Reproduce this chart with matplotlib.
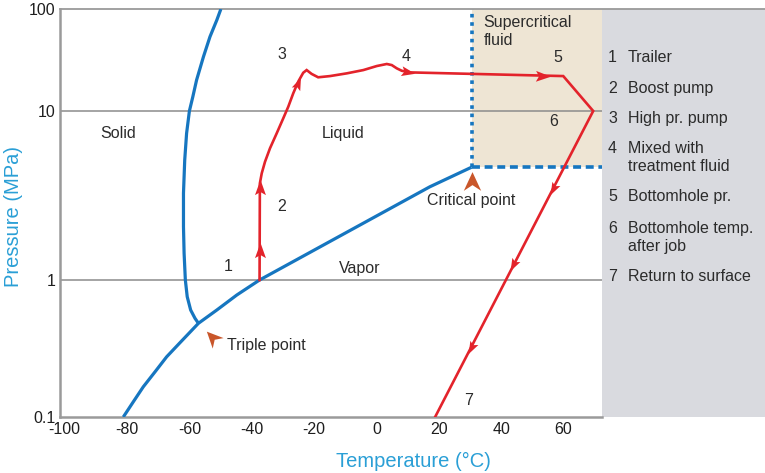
import numpy as np
import matplotlib
matplotlib.use("Agg")
import matplotlib.pyplot as plt

plt.rcParams['font.family'] = ['Liberation Sans', 'DejaVu Sans']

# ---------------- data ----------------
melt_T = [-49.9, -51.2, -53.4, -55.5, -57.7, -58.9, -60.0, -60.9, -61.5, -61.9,
          -61.9, -61.7, -61.3, -60.7, -59.6, -58.2, -57.1]
melt_P = [100, 78.0, 53.5, 34.0, 20.1, 13.8, 10.0, 7.38, 5.13, 3.26,
          2.07, 1.44, 1.0, 0.755, 0.604, 0.525, 0.483]

vap_T = [-81.2, -78.0, -74.8, -71.0, -67.3, -63.0, -57.1, -51.2, -44.8, -37.5, 17.1, 30.5]
vap_P = [0.1, 0.129, 0.166, 0.214, 0.275, 0.349, 0.483, 0.604, 0.777, 1.0, 3.56, 4.65]

crit_T, crit_P = 30.5, 4.65
panel_T = 72.4

path_T = [-37.5, -37.4, -36.8, -35.75, -34.15, -32.0, -29.9, -28.3, -26.7, -25.1,
          -23.5, -22.4, -20.8, -18.7, -14.9, -9.5, -4.2, 0.1, 3.3, 4.9,
          6.5, 8.1, 10.8, 59.9, 69.5, 18.8]
path_P = [1.0, 3.73, 4.28, 5.01, 6.02, 7.38, 9.05, 11.0, 14.9, 19.4,
          23.7, 25.2, 23.1, 21.4, 22.0, 23.4, 25.2, 27.6, 28.9, 28.2,
          26.2, 24.8, 23.9, 22.0, 10.0, 0.1]

arrow_T = [-37.5, -37.5, -24.8, 10.0, 53.5, 56.7, 44.4, 30.5]
arrow_P = [1.50, 3.56, 18.7, 23.7, 22.3, 3.44, 1.21, 0.317]

x_ticks = [-100, -80, -60, -40, -20, 0, 20, 40, 60]
y_ticks = [0.1, 1, 10, 100]
y_ticklabels = ["0.1", "1", "10", "100"]

step_labels = ["1", "2", "3", "4", "5", "6", "7"]
step_T = [-47.5, -30.4, -30.3, 9.5, 58.3, 56.9, 29.5]
step_P = [1.21, 2.72, 36.2, 34.6, 33.6, 8.69, 0.133]

legend_nums = ["1", "2", "3", "4", "5", "6", "7"]
legend_texts = ["Trailer", "Boost pump", "High pr. pump", "Mixed with\ntreatment fluid",
                "Bottomhole pr.", "Bottomhole temp.\nafter job", "Return to surface"]

# ---------------- styles ----------------
BLUE = '#1676c0'
RED = '#e3232b'
LBLUE = '#2a9fd6'
ORANGE = '#c9562a'
TXT = '#2b2b2b'
GRAYLINE = '#9a9a9a'

W, H = 765, 473

# piecewise log scale (decade heights as in the original figure)
LOGS = [-1.0, 0.0, 1.0, 2.0]
FRAC = [0.0, 137/408, 306/408, 1.0]


def _pw(x, xp, fp):
    x = np.asarray(x, dtype=float)
    y = np.interp(x, xp, fp)
    lo_s = (fp[1] - fp[0]) / (xp[1] - xp[0])
    hi_s = (fp[-1] - fp[-2]) / (xp[-1] - xp[-2])
    y = np.where(x < xp[0], fp[0] + (x - xp[0]) * lo_s, y)
    y = np.where(x > xp[-1], fp[-1] + (x - xp[-1]) * hi_s, y)
    return y


def fwd(v):
    with np.errstate(divide='ignore', invalid='ignore'):
        lv = np.log10(np.maximum(np.asarray(v, dtype=float), 1e-300))
    return _pw(lv, LOGS, FRAC)


def inv(v):
    return 10 ** _pw(v, FRAC, LOGS)


fig = plt.figure(figsize=(W / 100, H / 100), dpi=100)
ax = fig.add_axes([60 / W, 1 - 417 / H, 1 - 60 / W, (417 - 9) / H])
ax.set_yscale('function', functions=(fwd, inv))
x_left, x_right = -101.5, 124.6
ax.set_xlim(x_left, x_right)
ax.set_ylim(0.1, 100)

# backgrounds
ax.axvspan(panel_T, x_right, color='#d9dadf', lw=0, zorder=0)
ax.fill_between([crit_T, panel_T], crit_P, 100, color='#eee5d4', lw=0, zorder=0)

# grid lines
ax.hlines([1, 10], x_left, panel_T, colors='#8c8c8c', lw=1.1, zorder=1)

# dashed supercritical boundary
ax.plot([crit_T, crit_T], [crit_P, 100], color=BLUE, lw=2.6, ls=(0, (1.0, 1.3)), zorder=2)
ax.plot([crit_T, panel_T], [crit_P, crit_P], color=BLUE, lw=2.6, ls=(0, (2.2, 1.3)), zorder=2)

# phase boundaries
ax.plot(melt_T, melt_P, color=BLUE, lw=2.3, zorder=3, solid_capstyle='butt', solid_joinstyle='round')
ax.plot(vap_T, vap_P, color=BLUE, lw=2.3, zorder=3, solid_capstyle='butt', solid_joinstyle='round')

# red process path
ax.plot(path_T, path_P, color=RED, lw=1.9, zorder=4, solid_joinstyle='miter')

ARROW_VERTS = np.array([[0, 0.5], [-0.36, -0.5], [0, -0.3], [0.36, -0.5], [0, 0.5]])
CHEV_VERTS = np.array([[0, 0.775], [-0.72, -0.775], [0, -0.3], [0.72, -0.775], [0, 0.775]])


def rot(verts, deg):
    a = np.radians(deg)
    R = np.array([[np.cos(a), -np.sin(a)], [np.sin(a), np.cos(a)]])
    return verts @ R.T


disp = ax.transData.transform(np.column_stack([path_T, path_P]))
for t, p in zip(arrow_T, arrow_P):
    q = ax.transData.transform((t, p))
    best = None
    for i in range(len(disp) - 1):
        a, b = disp[i], disp[i + 1]
        ab = b - a
        L2 = ab @ ab
        if L2 == 0:
            continue
        s = np.clip((q - a) @ ab / L2, 0, 1)
        pr = a + s * ab
        d = np.hypot(*(q - pr))
        if best is None or d < best[0]:
            best = (d, pr, ab)
    _, pr, ab = best
    ang = np.degrees(np.arctan2(ab[1], ab[0]))
    tp = ax.transData.inverted().transform(pr)
    ax.plot(tp[0], tp[1], marker=rot(ARROW_VERTS, ang - 90), ms=11, color=RED,
            mec='none', zorder=5, ls='none')

# chevrons
ax.plot(crit_T, 3.84, marker=CHEV_VERTS, ms=13.5, color=ORANGE, mec='none', zorder=5, ls='none')
ax.plot(-52.7, 0.384, marker=rot(CHEV_VERTS, 44), ms=16, color=ORANGE, mec='none', zorder=5, ls='none')

# region labels
FS = 11.5
ax.text(-82.9, 7.31, "Solid", fontsize=FS, color=TXT, ha='center', va='center')
ax.text(-10.6, 7.38, "Liquid", fontsize=FS, color=TXT, ha='center', va='center')
ax.text(-5.3, 1.17, "Vapor", fontsize=FS, color=TXT, ha='center', va='center')
ax.text(34.3, 60.1, "Supercritical\nfluid", fontsize=FS, color=TXT, ha='left', va='center')
ax.text(crit_T, 2.97, "Critical point", fontsize=FS, color=TXT, ha='center', va='center')
ax.text(-35.2, 0.330, "Triple point", fontsize=FS, color=TXT, ha='center', va='center')
for s, t, p in zip(step_labels, step_T, step_P):
    ax.text(t, p, s, fontsize=FS, color=TXT, ha='center', va='center')

# legend panel
base_px = [62, 93.3, 123.3, 152.7, 201, 232.7, 281]
LINE_PX = 18.7
for n, txt, yb in zip(legend_nums, legend_texts, base_px):
    fig.text(608 / W, 1 - yb / H, n, fontsize=FS, color=TXT, ha='left', va='baseline')
    for k, line in enumerate(txt.split("\n")):
        fig.text(627.5 / W, 1 - (yb + k * LINE_PX) / H, line, fontsize=FS, color=TXT,
                 ha='left', va='baseline')

# axes styling
ax.set_xticks(x_ticks)
ax.set_xticklabels([str(v) for v in x_ticks])
ax.set_yticks(y_ticks)
ax.set_yticklabels(y_ticklabels)
ax.yaxis.set_minor_locator(matplotlib.ticker.NullLocator())
ax.tick_params(length=0, labelsize=11.5, colors='#1e1e1e', pad=3.5)
for sp in ['left', 'bottom']:
    ax.spines[sp].set_color(GRAYLINE)
    ax.spines[sp].set_linewidth(1.8)
ax.spines['bottom'].set_bounds(x_left, panel_T)
ax.spines['top'].set_color(GRAYLINE)
ax.spines['top'].set_linewidth(1.3)
ax.spines['right'].set_visible(False)

fig.text(14 / W, 1 - 216 / H, "Pressure (MPa)", rotation=90, fontsize=14.5, color=LBLUE,
         ha='center', va='center')
fig.text(413 / W, 1 - 461 / H, "Temperature (°C)", fontsize=14.5, color=LBLUE,
         ha='center', va='center')

fig.savefig("out.png", dpi=100)
